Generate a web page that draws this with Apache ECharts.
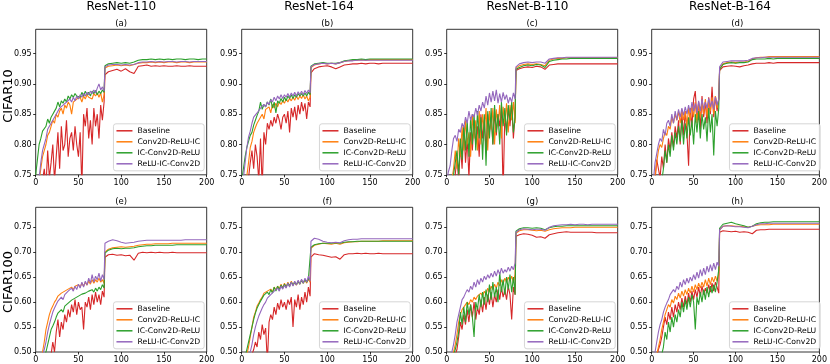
<!DOCTYPE html>
<html>
<head>
<meta charset="utf-8">
<script src="https://cdn.jsdelivr.net/npm/echarts@6/dist/echarts.min.js"></script>
<style>
  html, body { margin: 0; padding: 0; background: #fff; }
  #chart { width: 830px; height: 364px; }
</style>
</head>
<body>
<div id="chart"></div>
<script>
const epochs = [0,2,4,6,8,10,12,14,16,18,20,22,24,26,28,30,32,34,36,38,40,42,44,46,48,50,52,54,56,58,60,62,64,66,68,70,72,74,76,78,80,
  81,85,90,95,100,105,110,115,120,125,130,135,140,145,150,155,160,165,170,175,180,185,190,195,200];
const seriesNames = ['Baseline', 'Conv2D-ReLU-IC', 'IC-Conv2D-ReLU', 'ReLU-IC-Conv2D'];
const colTitles = ['ResNet-110', 'ResNet-164', 'ResNet-B-110', 'ResNet-B-164'];
const rowTitles = ['CIFAR10', 'CIFAR100'];
const panelLabels = ['(a)', '(b)', '(c)', '(d)', '(e)', '(f)', '(g)', '(h)'];
const xTicks = [0, 50, 100, 150, 200];
const yTicksC10 = [0.75, 0.80, 0.85, 0.90, 0.95];
const yTicksC100 = [0.50, 0.55, 0.60, 0.65, 0.70, 0.75];

// test accuracy x1000 (values below the axis are clipped away)
// (a) CIFAR10 ResNet-110
const a_base  = [650,680,700,720,740,760,730,790,745,770,800,740,780,820,760,830,790,800,840,780,810,820,790,830,800,780,820,730,850,830,860,810,840,800,860,830,850,810,865,840,870, 915,920,922,924,921,925,920,917,929,930,931,929,930,929,930,929,929,930,929,929,930,929,929,929,929];
const a_c2ric = [700,720,740,760,780,790,800,815,820,830,840,835,850,845,855,860,850,865,860,870,865,850,870,868,875,872,878,870,880,875,882,878,880,875,884,880,885,878,885,870,882, 926,929,930,931,930,931,930,932,934,935,935,936,935,936,935,936,936,935,936,936,935,936,936,936,936];
const a_icc2r = [750,775,800,810,822,825,830,842,835,845,850,855,860,870,862,872,868,875,870,880,875,882,878,884,880,883,878,886,880,888,882,886,880,888,884,889,882,888,884,890,886, 930,933,934,935,934,935,934,936,939,940,940,941,940,941,940,941,940,941,941,940,941,941,940,941,941];
const a_ricc2 = [700,720,745,770,790,800,810,825,830,835,840,842,850,855,860,858,865,862,870,868,875,870,878,872,880,875,882,878,884,880,886,882,888,884,890,885,893,900,890,895,888, 928,931,932,932,931,932,931,932,935,936,936,937,936,937,936,937,937,936,937,937,936,937,937,937,937];
// (b) CIFAR10 ResNet-164
const b_base  = [650,680,700,720,745,770,790,760,800,780,740,810,730,820,800,835,825,840,830,845,835,850,840,825,845,850,835,855,820,860,845,862,840,865,850,870,855,868,842,870,862, 918,925,928,929,930,928,925,928,931,932,933,933,934,933,934,934,933,934,934,934,934,934,934,934,934];
const b_c2ric = [690,710,730,748,770,795,805,820,828,835,832,845,850,842,858,855,862,852,866,860,868,862,870,866,872,868,875,870,876,872,878,873,880,874,880,876,882,875,880,872,878, 927,931,933,934,933,934,933,935,937,938,939,939,940,939,940,940,940,940,940,940,940,940,940,940,940];
const b_icc2r = [740,760,780,795,805,815,820,832,840,848,855,870,858,866,862,870,865,875,860,870,852,872,868,876,870,878,872,880,876,882,876,882,878,884,880,884,880,885,880,886,882, 929,933,934,935,934,934,934,935,938,939,940,940,941,940,941,941,941,941,941,941,941,941,941,941,941];
const b_ricc2 = [720,745,770,795,812,822,835,845,842,852,855,860,858,866,862,870,866,874,870,878,872,880,875,882,876,882,878,884,878,885,880,886,880,887,882,888,882,889,884,890,885, 928,932,933,934,933,934,933,935,937,938,938,939,939,939,939,939,939,939,939,939,939,939,939,939,939];
// (c) CIFAR10 ResNet-B-110
const c_base  = [650,680,700,710,730,750,780,740,800,760,830,770,810,745,820,790,840,800,830,780,850,810,840,790,850,820,845,800,855,815,850,830,860,720,850,820,860,830,865,810,850, 922,925,927,928,927,929,928,924,931,932,933,933,933,933,933,933,933,933,933,933,933,933,933,933,933];
const c_c2ric = [680,700,720,740,760,790,760,810,780,830,790,840,800,820,780,850,810,840,790,855,800,850,820,860,790,855,825,860,800,858,830,865,810,862,835,868,820,865,840,870,835, 926,930,932,933,932,933,932,930,939,941,942,942,943,943,943,943,943,943,943,943,943,943,943,943,943];
const c_icc2r = [670,690,710,730,750,770,790,750,810,775,830,790,840,780,845,800,850,790,855,810,845,775,850,765,855,810,860,800,865,820,850,800,870,830,860,815,865,840,870,820,845, 924,927,930,931,930,932,931,927,937,939,940,941,941,942,942,942,942,942,942,942,942,942,942,942,942];
const c_ricc2 = [740,755,765,790,810,815,805,825,820,835,828,845,835,855,840,850,845,860,848,865,855,870,860,880,865,885,870,888,872,890,868,884,870,886,874,882,868,878,870,885,875, 928,933,935,936,935,936,936,934,941,942,943,943,944,944,944,944,944,944,944,944,944,944,944,944,944];
// (d) CIFAR10 ResNet-B-164
const d_base  = [650,700,740,775,760,745,780,760,800,770,810,790,820,795,830,810,840,800,850,815,855,820,765,860,830,875,888,840,870,825,880,845,870,835,878,850,895,845,880,855,875, 922,928,929,930,929,928,930,931,933,934,934,934,935,934,935,935,935,935,935,935,935,935,935,935,935];
const d_c2ric = [690,720,750,770,790,800,795,810,820,815,830,825,845,835,850,840,855,835,858,840,855,830,860,840,865,845,870,835,868,845,872,850,875,845,870,855,878,850,880,860,875, 925,933,935,936,935,936,936,937,941,943,944,944,945,945,945,945,945,945,945,945,945,945,945,945,945];
const d_icc2r = [650,680,700,720,735,745,740,760,790,770,800,780,815,790,820,800,830,805,840,800,835,810,845,815,840,800,850,820,855,810,850,825,845,805,860,820,850,782,855,830,860, 924,932,934,935,934,935,935,936,940,941,941,941,942,941,942,942,942,942,942,942,942,942,942,942,942];
const d_ricc2 = [700,740,770,785,800,810,805,825,815,835,840,830,850,835,855,840,858,845,860,848,862,850,865,852,870,855,868,852,872,855,875,858,870,860,876,862,872,858,878,865,875, 928,936,937,938,938,938,938,939,942,943,943,944,944,944,944,944,944,944,944,944,944,944,944,944,944];
// (e) CIFAR100 ResNet-110
const e_base  = [400,420,440,450,460,470,480,485,490,495,520,500,540,565,530,560,545,575,560,585,570,595,580,605,575,600,585,590,545,600,590,610,585,615,595,620,600,615,595,622,610, 690,695,696,694,695,693,694,684,698,700,699,700,699,700,699,699,700,699,699,699,699,699,699,699,699];
const e_c2ric = [420,450,470,490,500,520,545,560,575,585,592,600,605,612,608,618,614,622,618,626,622,630,625,632,628,635,630,638,632,640,634,642,636,645,638,645,640,648,640,645,638, 700,706,709,710,711,710,711,712,714,715,716,716,717,717,717,717,718,718,718,718,718,718,718,718,718];
const e_icc2r = [400,420,440,460,475,490,500,515,530,545,552,560,570,578,575,585,580,592,588,598,594,604,600,608,604,612,608,616,612,618,614,622,618,625,620,628,622,630,625,635,628, 698,704,707,708,707,708,708,709,711,712,713,713,714,714,714,714,714,715,715,715,715,715,715,715,715];
const e_ricc2 = [410,440,460,480,495,505,520,540,555,568,580,588,595,602,598,610,605,615,612,622,618,628,622,632,625,636,628,640,630,642,634,648,638,655,640,652,645,658,642,655,645, 718,722,725,723,720,718,719,720,722,723,724,724,724,724,724,724,724,724,724,725,725,725,725,725,725];
// (f) CIFAR100 ResNet-164
const f_base  = [400,420,440,460,475,490,495,505,520,510,540,525,555,535,548,480,560,575,565,590,575,598,585,605,590,600,585,605,595,610,550,605,590,615,585,610,595,620,600,630,612, 690,697,695,694,692,690,691,686,695,697,697,698,697,698,697,697,698,697,697,697,697,697,697,697,697];
const f_c2ric = [430,460,480,495,510,530,550,570,580,592,598,605,610,618,614,622,618,626,620,630,624,632,626,636,628,638,630,640,632,642,634,640,634,642,636,644,638,645,638,646,640, 708,714,716,718,717,716,718,716,719,720,721,721,722,722,722,722,722,723,723,723,723,723,723,723,723];
const f_icc2r = [440,470,490,505,520,535,550,565,578,588,595,602,608,614,610,620,615,625,618,630,622,632,625,634,628,636,630,638,632,640,634,640,635,642,636,644,638,645,640,646,642, 710,715,717,718,718,718,719,718,720,721,721,722,722,722,722,722,722,722,722,722,722,722,722,722,722];
const f_ricc2 = [400,430,455,475,490,500,515,535,550,562,572,580,588,595,600,608,605,615,612,622,618,628,622,632,626,634,628,638,630,640,632,642,634,644,636,646,638,648,640,652,642, 722,728,726,722,720,719,720,719,723,725,726,726,727,727,727,727,727,727,727,727,727,727,727,727,727];
// (g) CIFAR100 ResNet-B-110
const g_base  = [400,430,450,470,485,495,505,530,560,545,575,555,585,560,595,570,600,565,590,575,605,580,610,585,615,595,620,590,615,600,625,605,630,610,625,605,632,615,565,630,615, 732,735,737,736,734,730,731,728,735,737,739,740,741,740,740,740,740,740,740,739,739,739,739,739,739];
const g_c2ric = [420,450,470,490,500,515,535,560,575,585,590,595,600,595,605,600,610,605,612,608,618,612,622,615,628,620,632,625,636,628,640,632,645,636,648,640,650,642,652,640,655, 738,743,745,745,744,743,744,742,745,747,748,749,749,749,750,750,750,750,750,750,750,750,750,750,750];
const g_icc2r = [410,440,460,480,495,505,520,540,580,555,590,560,600,575,595,570,530,600,585,615,590,620,595,625,600,635,605,640,610,630,600,660,620,645,615,650,625,655,620,650,615, 742,747,749,749,748,749,748,745,749,751,752,752,753,753,753,753,753,753,753,753,753,753,753,753,753];
const g_ricc2 = [440,470,490,500,515,535,560,575,590,605,610,618,625,620,632,625,640,630,645,635,648,640,652,645,655,648,658,650,662,652,665,655,668,658,665,660,670,662,672,665,678, 740,745,747,746,745,746,746,744,750,753,754,755,755,756,755,756,756,755,756,756,756,756,756,756,756];
// (h) CIFAR100 ResNet-B-164
const h_base  = [420,450,470,490,505,515,530,550,570,555,580,565,590,570,595,580,600,585,608,590,612,595,618,600,622,605,625,610,630,612,632,615,628,618,635,620,638,622,640,630,618, 740,743,742,741,742,740,741,740,737,744,745,745,746,746,746,746,746,746,746,746,746,746,746,746,746];
const h_c2ric = [420,450,475,495,510,525,545,560,575,585,595,590,605,598,612,605,618,608,622,612,625,615,628,618,632,620,635,625,638,628,640,630,645,632,648,635,650,640,652,642,655, 745,752,753,753,752,752,751,750,752,754,755,755,755,756,756,756,756,756,756,756,756,756,756,756,756];
const h_icc2r = [400,430,450,470,480,490,495,510,540,525,560,540,570,550,575,560,585,570,600,580,605,585,610,590,615,600,545,610,595,620,600,625,605,630,610,632,618,635,620,640,665, 748,756,758,760,757,755,753,750,752,757,759,760,760,761,761,761,761,761,761,761,761,761,761,761,761];
const h_ricc2 = [460,480,500,520,540,555,565,580,590,598,605,615,612,625,620,632,625,640,630,645,635,648,638,650,642,655,645,660,648,665,652,668,655,672,660,675,662,678,665,680,672, 745,752,753,752,751,751,750,749,752,755,757,757,758,758,758,758,758,758,758,758,758,758,758,758,758];

const panels = [
  [a_base, a_c2ric, a_icc2r, a_ricc2], [b_base, b_c2ric, b_icc2r, b_ricc2],
  [c_base, c_c2ric, c_icc2r, c_ricc2], [d_base, d_c2ric, d_icc2r, d_ricc2],
  [e_base, e_c2ric, e_icc2r, e_ricc2], [f_base, f_c2ric, f_icc2r, f_ricc2],
  [g_base, g_c2ric, g_icc2r, g_ricc2], [h_base, h_c2ric, h_icc2r, h_ricc2]
];

const colors = ['#d62728', '#ff7f0e', '#2ca02c', '#9467bd'];
const FONT = 'DejaVu Sans';
const colLeft = [35.7, 241.7, 446.7, 651.7];
const rowTop = [29.3, 207.3];
const plotW = 171, plotH = 145.5;
const titleX = [121.3, 319, 527.5, 730];
const rowLabelY = [96, 282];

var chart = echarts.init(document.getElementById('chart'));
var grids = [], xAxes = [], yAxes = [], series = [], legends = [], graphics = [];

panels.forEach(function (lines, k) {
  var row = Math.floor(k / 4), col = k % 4;
  var left = colLeft[col], top = rowTop[row];
  var yTicks = row === 0 ? yTicksC10 : yTicksC100;
  grids.push({
    left: left, top: top, width: plotW, height: plotH,
    show: true, borderColor: '#000', borderWidth: 0.8, backgroundColor: 'transparent'
  });
  xAxes.push({
    type: 'value', gridIndex: k, min: 0, max: 200,
    axisLine: { show: false }, splitLine: { show: false },
    axisTick: { show: true, inside: false, length: 2.5, customValues: xTicks, lineStyle: { color: '#000', width: 0.8 } },
    axisLabel: { customValues: xTicks, fontSize: 8, fontFamily: FONT, color: '#000', margin: 4 }
  });
  yAxes.push({
    type: 'value', gridIndex: k,
    min: row === 0 ? 0.75 : 0.50, max: row === 0 ? 0.99 : 0.79,
    axisLine: { show: false }, splitLine: { show: false },
    axisTick: { show: true, inside: false, length: 2.5, customValues: yTicks, lineStyle: { color: '#000', width: 0.8 } },
    axisLabel: { customValues: yTicks, fontSize: 8, fontFamily: FONT, color: '#000', margin: 4,
      formatter: function (v) { return v.toFixed(2); } }
  });
  lines.forEach(function (vals, s) {
    series.push({
      name: seriesNames[s], type: 'line', xAxisIndex: k, yAxisIndex: k,
      data: epochs.map(function (e, i) { return [e, vals[i] / 1000]; }),
      symbol: 'none', showSymbol: false, clip: true,
      lineStyle: { width: 1.1, color: colors[s] }, itemStyle: { color: colors[s] },
      emphasis: { disabled: true }, animation: false
    });
  });
  legends.push({
    data: seriesNames, orient: 'vertical',
    right: 830 - (left + plotW) + 2.5, bottom: 364 - (top + plotH) + 4,
    icon: 'rect', itemWidth: 16, itemHeight: 1.5, itemGap: 2,
    padding: [2.5, 4, 2.5, 3],
    backgroundColor: 'rgba(255,255,255,0.8)', borderColor: '#ccc', borderWidth: 0.8, borderRadius: 2.5,
    textStyle: { fontSize: 7.7, fontFamily: FONT, color: '#000', lineHeight: 9 },
    selectedMode: false
  });
  graphics.push({
    type: 'text', x: titleX[col] + (left + plotW / 2 - titleX[col]), y: top - 6,
    style: { text: panelLabels[k], fontSize: 8.5, fontFamily: FONT, fill: '#000', textAlign: 'center', textVerticalAlign: 'middle' }
  });
});

colTitles.forEach(function (t, c) {
  graphics.push({
    type: 'text', x: titleX[c], y: 7,
    style: { text: t, fontSize: 12, fontFamily: FONT, fill: '#000', textAlign: 'center', textVerticalAlign: 'middle' }
  });
});
rowTitles.forEach(function (t, r) {
  graphics.push({
    type: 'text', x: 8.5, y: rowLabelY[r], rotation: Math.PI / 2,
    style: { text: t, fontSize: 13, fontFamily: FONT, fill: '#000', textAlign: 'center', textVerticalAlign: 'middle' }
  });
});

chart.setOption({
  animation: false,
  grid: grids, xAxis: xAxes, yAxis: yAxes,
  series: series, legend: legends, graphic: graphics
});
</script>
</body>
</html>
